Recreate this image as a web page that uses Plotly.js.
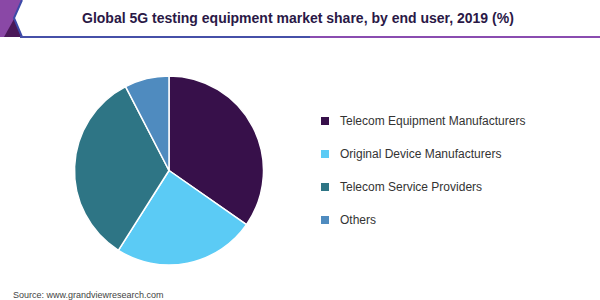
<!DOCTYPE html>
<html>
<head>
<meta charset="utf-8">
<script src="https://cdn.plot.ly/plotly-3.0.1.min.js"></script>
<style>html,body{margin:0;padding:0;background:#fff;}#chart{width:600px;height:300px;}</style>
</head>
<body>
<div id="chart"></div>
<script>
var titleText = "Global 5G testing equipment market share, by end user, 2019 (%)";
var sourceText = "Source: www.grandviewresearch.com";
var labels = ["Telecom Equipment Manufacturers", "Original Device Manufacturers", "Telecom Service Providers", "Others"];
var values = [34.7, 24.3, 33.4, 7.6];
var colors = ["#37104a", "#5bcbf5", "#2e7585", "#4f8bbf"];

var W = 600, H = 300;
function px(x){return x / W;}
function py(y){return 1 - y / H;}
function pp(s){return s.replace(/(\d+),(\d+)/g, function(m,a,b){return (a/W)+","+(1-b/H);});}

var shapes = [
  {type:"path", xref:"paper", yref:"paper", path:pp("M0,0 L22,0 L14,18 L22,37 L0,37 Z"), fillcolor:"#8a48a6", line:{width:0}, layer:"above"},
  {type:"path", xref:"paper", yref:"paper", path:pp("M4,37 L14,19 L22,37 Z"), fillcolor:"#4a1858", line:{width:0}, layer:"above"},
  {type:"path", xref:"paper", yref:"paper", path:pp("M22,0 L14,18 L22,37"), line:{color:"#3d4aa8", width:2}, layer:"above"},
  {type:"line", xref:"paper", yref:"paper", x0:px(20), x1:px(310), y0:py(37), y1:py(37), line:{color:"#4650a8", width:2}},
  {type:"line", xref:"paper", yref:"paper", x0:px(310), x1:px(600), y0:py(37), y1:py(37), line:{color:"#8a4cb0", width:2}}
];

var annotations = [
  {text:"<b>" + titleText + "</b>", xref:"paper", yref:"paper", x:px(298), y:py(18), xanchor:"center", yanchor:"middle", showarrow:false, font:{family:"Liberation Sans, Arial, sans-serif", size:14, color:"#2a1846"}},
  {text:sourceText, xref:"paper", yref:"paper", x:px(11), y:py(295), xanchor:"left", yanchor:"middle", showarrow:false, font:{family:"Liberation Sans, Arial, sans-serif", size:9, color:"#444"}}
];

for (var i = 0; i < labels.length; i++) {
  var yc = 121 + i * 33;
  shapes.push({type:"rect", xref:"paper", yref:"paper", x0:px(321), x1:px(329), y0:py(yc+4), y1:py(yc-4), fillcolor:colors[i], line:{width:0}});
  annotations.push({text:labels[i], xref:"paper", yref:"paper", x:px(338), y:py(yc), xanchor:"left", yanchor:"middle", showarrow:false, font:{family:"Liberation Sans, Arial, sans-serif", size:12, color:"#333"}});
}

var data = [{
  type:"pie",
  labels:labels,
  values:values,
  marker:{colors:colors, line:{color:"#ffffff", width:1.5}},
  sort:false,
  direction:"clockwise",
  rotation:0,
  textinfo:"none",
  hoverinfo:"label+percent",
  domain:{x:[px(169-94.5), px(169+94.5)], y:[py(265), py(76)]}
}];

var layout = {
  width:W, height:H,
  margin:{l:0, r:0, t:0, b:0},
  showlegend:false,
  paper_bgcolor:"#ffffff",
  shapes:shapes,
  annotations:annotations
};

Plotly.newPlot("chart", data, layout, {displayModeBar:false, staticPlot:true});
</script>
</body>
</html>
